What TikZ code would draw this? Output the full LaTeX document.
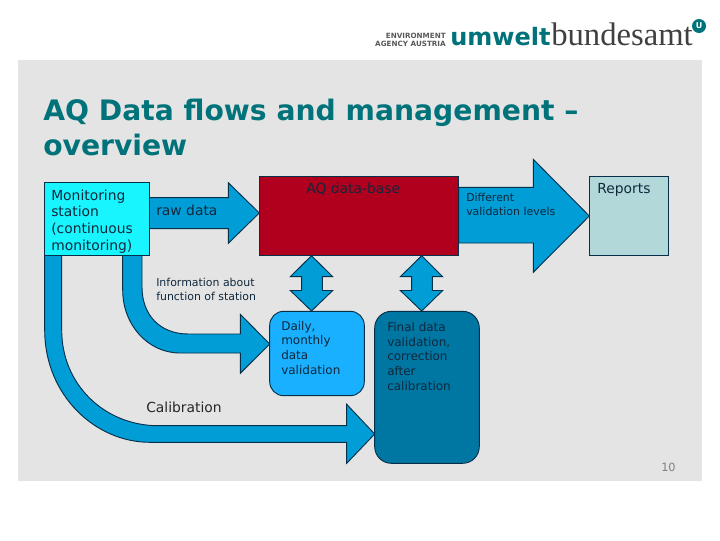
\documentclass[tikz,border=0pt]{standalone}
\usepackage{fontspec}
\setmainfont{DejaVu Sans}
\newfontfamily\logoserif{Liberation Serif}
\definecolor{panel}{HTML}{E4E4E4}
\definecolor{arrowblue}{HTML}{009DD6}
\definecolor{edge}{HTML}{06304A}
\definecolor{stationc}{HTML}{19F5FF}
\definecolor{dbred}{HTML}{B0001E}
\definecolor{reportc}{HTML}{B2D8DA}
\definecolor{dailyc}{HTML}{19B0FF}
\definecolor{finalc}{HTML}{0076A3}
\definecolor{teal}{HTML}{00737A}
\definecolor{ink}{HTML}{10283C}
\tikzset{
  blockarrow/.style={draw=edge,fill=arrowblue,line width=0.7pt,line join=miter},
  boxshape/.style={draw=edge,line width=0.7pt},
  lab/.style={inner sep=0pt,anchor=base west,align=left,text=ink},
  big/.style={lab,font=\fontsize{10.4}{12.4}\selectfont},
  small/.style={lab,font=\fontsize{8.2}{10}\selectfont},
  mid/.style={lab,font=\fontsize{9}{11}\selectfont},
  logosmall/.style={inner sep=0pt,anchor=base east,text=black!65,font=\bfseries\fontsize{5.4}{6}\selectfont},
}
\begin{document}
\begin{tikzpicture}[x=0.75pt,y=-0.75pt]
\useasboundingbox (0,0) rectangle (720,540);
\fill[white] (0,0) rectangle (720,540);
\fill[panel] (18,60) rectangle (702,481);
% logo
\node[logosmall] (logoa) at (446,38.5) {ENVIRONMENT};
\node[logosmall] (logob) at (446,46) {AGENCY AUSTRIA};
\node[inner sep=0pt,anchor=base west,text=teal,font=\bfseries\fontsize{18}{20}\selectfont] (logoc) at (450,45.5) {umwelt};
\node[inner sep=0pt,anchor=base west,text=black!75,font=\logoserif\fontsize{24.5}{28}\selectfont] (logod) at (551,45.5) {bundesamt};
\node[circle,fill=teal,inner sep=0pt,minimum size=10.5pt,text=white,font=\bfseries\fontsize{6}{6}\selectfont] (logoe) at (699,26) {U};
% title
\node[inner sep=0pt,anchor=base west,align=left,text=teal,font=\bfseries\fontsize{21.15}{26}\selectfont] (title) at (43,155) {AQ Data flows and management –\\overview};
% curved arrows
\draw[blockarrow] (44.7,255.3) -- (44.7,330) .. controls (44.7,395) and (95,442.3) .. (150,442.3) -- (346.7,442.3) -- (346.7,463.3) -- (374.7,434) -- (346.7,404.3) -- (346.7,425.7) -- (158.3,425.7) .. controls (105,425.7) and (61.7,385) .. (61.7,330) -- (61.7,255.3) -- cycle;
\draw[blockarrow] (122.7,255.3) -- (122.7,290) .. controls (122.7,325) and (148,353) .. (180,353) -- (240.3,353) -- (240.3,373.3) -- (269.7,344) -- (240.3,314.3) -- (240.3,334) -- (188.3,334) .. controls (160,334) and (142,315) .. (142,287) -- (142,255.3) -- cycle;
% straight arrows
\draw[blockarrow] (149.3,197.7) -- (228.3,197.7) -- (228.3,182.7) -- (259.3,213) -- (228.3,243.3) -- (228.3,228.7) -- (149.3,228.7) -- cycle;
\draw[blockarrow] (458.7,187.3) -- (533.3,187.3) -- (533.3,159.3) -- (589.3,216) -- (533.3,272.3) -- (533.3,243) -- (458.7,243) -- cycle;
% double arrows
\draw[blockarrow] (311.5,255.7) -- (332.7,276.7) -- (322.3,276.7) -- (322.3,290.5) -- (332.7,290.5) -- (311.5,311) -- (290.3,290.5) -- (301.7,290.5) -- (301.7,276.7) -- (290.3,276.7) -- cycle;
\draw[blockarrow] (421.7,255.7) -- (442.7,276.7) -- (432.3,276.7) -- (432.3,290.5) -- (442.7,290.5) -- (421.7,311) -- (400.3,290.5) -- (411.7,290.5) -- (411.7,276.7) -- (400.3,276.7) -- cycle;
% boxes
\draw[boxshape,fill=stationc] (44.7,182.7) rectangle (149.3,255.3);
\draw[boxshape,fill=dbred] (259.3,176.7) rectangle (458.7,255.7);
\draw[boxshape,fill=reportc] (589.3,176.7) rectangle (668.7,255.7);
\draw[boxshape,fill=dailyc,rounded corners=10.5pt] (269.7,311.3) rectangle (364.3,395.7);
\draw[boxshape,fill=finalc,rounded corners=12.5pt] (374.7,311.3) rectangle (479.3,463.3);
% labels
\node[big] (station) at (51,250) {Monitoring\\station\\(continuous\\monitoring)};
\node[big] (raw) at (156,215) {raw data};
\node[big] (db) at (306,193) {AQ data-base};
\node[small] (levels) at (466,215) {Different\\validation levels};
\node[big] (rep) at (597,193) {Reports};
\node[small] (info) at (156,300) {Information about\\function of station};
\node[mid] (daily) at (281,374) {Daily,\\monthly\\data\\validation};
\node[mid] (final) at (387,390) {Final data\\validation,\\correction\\after\\calibration};
\node[big,text=black!85] (cal) at (146,412) {Calibration};
\node[inner sep=0pt,anchor=base west,text=black!50,font=\fontsize{8.5}{10}\selectfont] (page) at (661,471) {10};
\end{tikzpicture}
\end{document}
